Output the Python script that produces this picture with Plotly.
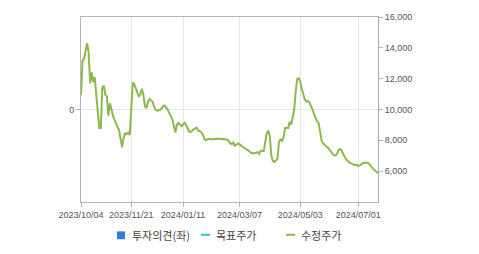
import plotly.graph_objects as go

# 수정주가 (adjusted price), one value per trading day from 2023/10/04
price = [
    10930, 13150, 13300, 13800, 14300, 13700, 11700, 12400, 11800, 12100,
    10900, 9500, 8800, 8800, 11450, 11550, 10950, 10850, 9600, 10400,
    9870, 9600, 9350, 9100, 8900, 8650, 8100, 7540, 8200, 8450,
    8400, 8500, 8350, 9950, 11750, 11650, 11350, 11140, 10820, 11000,
    11350, 10930, 10200, 10100, 10500, 10680, 10600, 10500, 10190, 9980,
    9920, 9960, 9980, 10080, 10230, 10250, 10120, 9980, 9770, 9555,
    9345, 8920, 8500, 9030, 9130, 9030, 8920, 9030, 9130, 8990,
    8710, 8560, 8540, 8640, 8710, 8770, 8810, 8600, 8600, 8500,
    8390, 8075, 8010, 8075, 8075, 8100, 8050, 8100, 8100, 8075,
    8120, 8100, 8100, 8100, 8075, 8050, 8050, 7950, 7800, 7760,
    7860, 7650, 7720, 7800, 7750, 7650, 7580, 7520, 7460, 7440,
    7330, 7250, 7165, 7165, 7170, 7200, 7230, 7120, 7330, 7300,
    7300, 7900, 8500, 8600, 8250, 7000, 6650, 6600, 6700, 6800,
    7900, 8050, 7970, 8180, 8810, 8810, 8800, 9200, 9030, 9500,
    10000, 11200, 12000, 12030, 11800, 11300, 10950, 10650, 10520, 10550,
    10450, 10250, 10000, 9700, 9400, 9230, 9130, 8550, 7970, 7800,
    7680, 7600, 7540, 7400, 7250, 7100, 7030, 7020, 7120, 7350,
    7440, 7360, 7200, 6950, 6780, 6650, 6580, 6520, 6480, 6440,
    6380, 6420, 6330, 6370, 6460, 6520, 6540, 6550, 6550, 6500,
    6350, 6220, 6130, 6050, 5920, 5860,
]
day_index = list(range(len(price)))

# 투자의견 (opinion) - no values shown in this period
opinion = [None] * len(price)

# x tick positions (trading-day index) and labels
tick_index = [0, 33, 67, 104, 144, 182]
tick_dates = ["2023/10/04", "2023/11/21", "2024/01/11", "2024/03/07", "2024/05/03", "2024/07/01"]

price_ticks = [6000, 8000, 10000, 12000, 14000, 16000]
opinion_ticks = [0]

legend_names = ["투자의견(좌)", "목표주가", "수정주가"]
legend_colors = ["#2d7ee0", "#3cb9c9", "#8db84e"]

GREEN = "#8db84e"
AXIS = "#b4b4b4"
GRID = "#e6e6e6"
TXT = "#555555"
FONT = "Liberation Sans, Arial, sans-serif"
KFONT = "Noto Sans CJK KR, sans-serif"

fig = go.Figure()
fig.add_trace(go.Bar(
    x=day_index, y=opinion, yaxis="y", marker_color=legend_colors[0],
    name=legend_names[0], showlegend=False, hoverinfo="skip",
))
fig.add_trace(go.Scatter(
    x=day_index, y=price, mode="lines", yaxis="y2",
    line=dict(color=GREEN, width=2), name=legend_names[2], showlegend=False,
    hoverinfo="skip",
))

W, H = 479, 254
L, R, T, B = 81, 101, 13, 52
pw, ph = W - L - R, H - T - B

fig.update_layout(
    width=W, height=H,
    margin=dict(l=L, r=R, t=T, b=B),
    paper_bgcolor="white", plot_bgcolor="white",
    showlegend=False,
    xaxis=dict(
        range=[0, len(price) - 1],
        tickmode="array", tickvals=tick_index, ticktext=tick_dates,
        showgrid=True, gridcolor=GRID, gridwidth=1,
        showline=True, linecolor=AXIS, linewidth=1, mirror=True,
        ticks="outside", ticklen=4, tickcolor=AXIS,
        tickfont=dict(family=FONT, size=9, color=TXT),
        zeroline=False, fixedrange=True,
    ),
    yaxis=dict(
        range=[-1, 1], side="left", autorange=False,
        tickmode="array", tickvals=opinion_ticks, ticktext=["0"],
        showgrid=True, gridcolor=GRID, gridwidth=1,
        showline=True, linecolor=AXIS, linewidth=1,
        ticks="outside", ticklen=4, tickcolor=AXIS,
        showticklabels=True,
        tickfont=dict(family=FONT, size=9, color=TXT),
        zeroline=False, fixedrange=True,
    ),
    yaxis2=dict(
        range=[4000, 16000], side="right", overlaying="y",
        tickmode="array", tickvals=price_ticks, tickformat=",",
        showgrid=False,
        showline=True, linecolor="#a8a8a8", linewidth=1,
        ticks="outside", ticklen=4, tickcolor=AXIS,
        tickfont=dict(family=FONT, size=9, color=TXT),
        zeroline=False, fixedrange=True,
    ),
)

def px_x(px):
    return (px - L) / pw

def px_y(py):
    return (H - B - py) / ph

# custom legend row
ly = 235.5
fig.add_shape(type="rect", xref="paper", yref="paper",
              x0=px_x(117), x1=px_x(125), y0=px_y(240), y1=px_y(232),
              fillcolor=legend_colors[0], line=dict(width=0))
fig.add_shape(type="line", xref="paper", yref="paper",
              x0=px_x(201), x1=px_x(210), y0=px_y(ly), y1=px_y(ly),
              line=dict(color=legend_colors[1], width=2))
fig.add_shape(type="line", xref="paper", yref="paper",
              x0=px_x(286), x1=px_x(295), y0=px_y(ly), y1=px_y(ly),
              line=dict(color=legend_colors[2], width=2))

for name, xpx in zip(legend_names, [130, 214, 299]):
    fig.add_annotation(
        text=name, xref="paper", yref="paper",
        x=px_x(xpx), y=px_y(ly), xanchor="left", yanchor="middle",
        showarrow=False, font=dict(family=KFONT, size=11, color="#444444"),
    )

fig.write_html("out.html")
